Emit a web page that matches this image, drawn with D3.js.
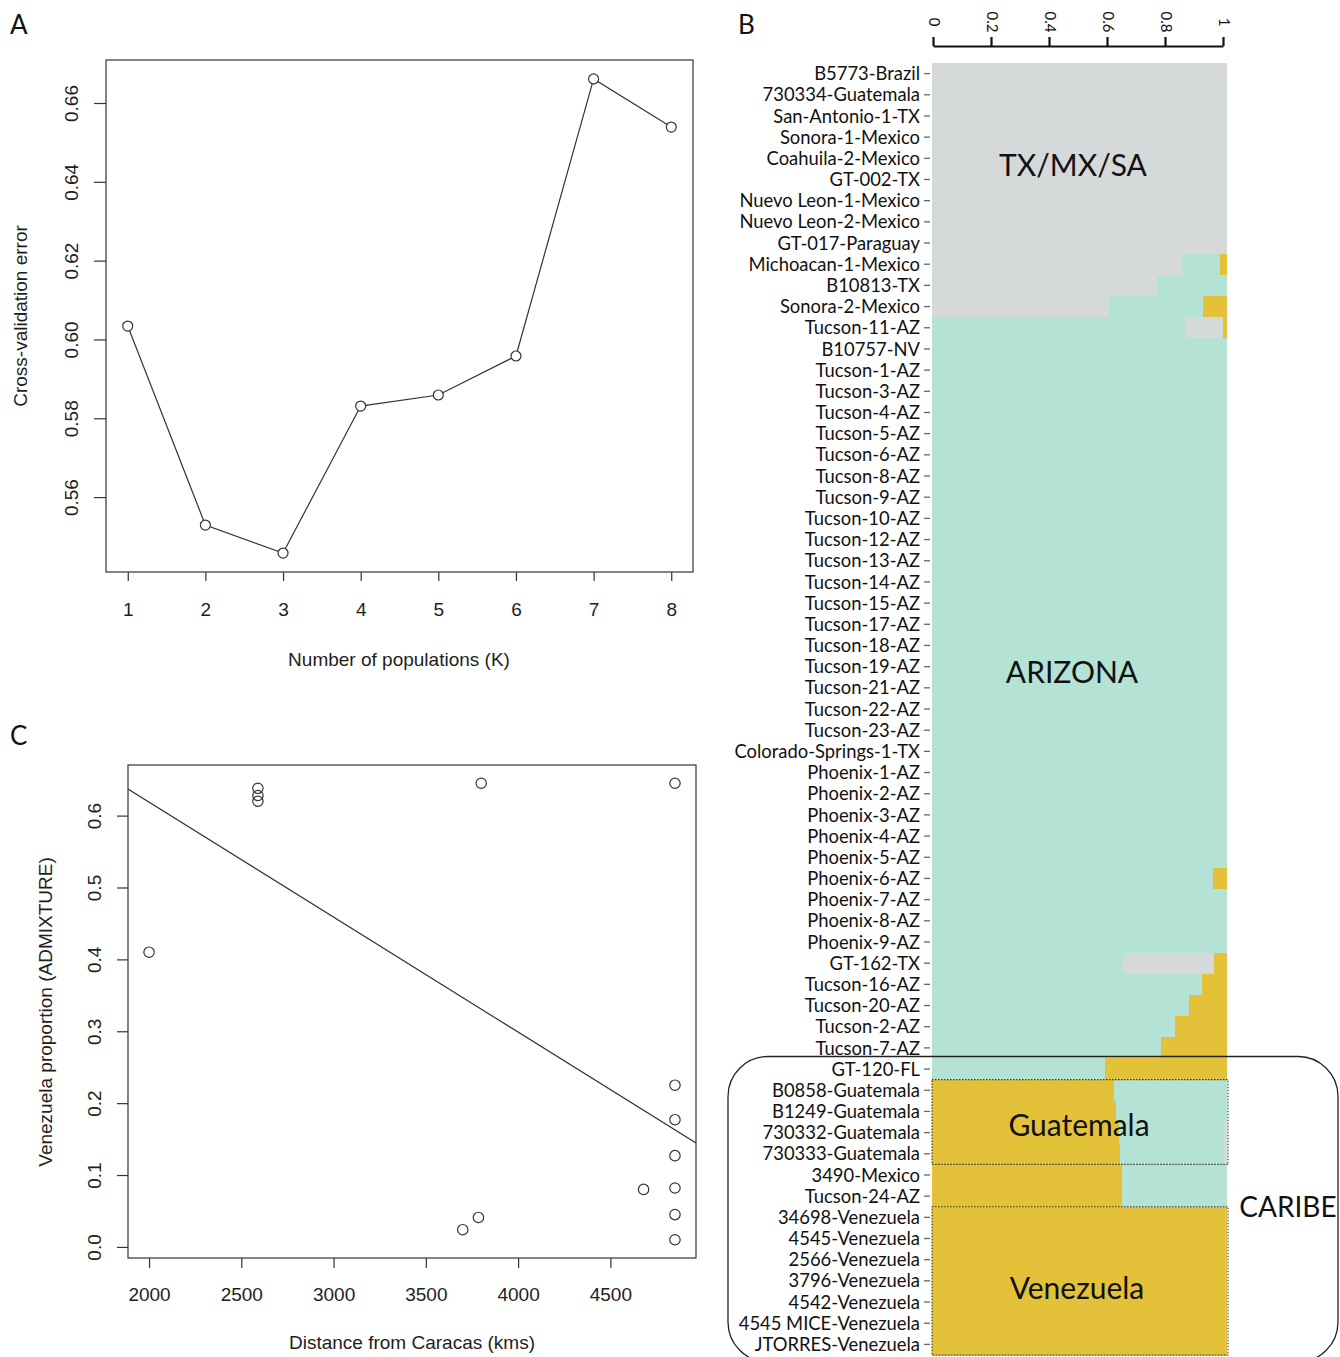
<!DOCTYPE html>
<html>
<head>
<meta charset="utf-8">
<style>
    body {
        margin: 0;
        background: #fff;
    }

    svg {
        display: block;
    }

    .rplot text {
        font-family: 'Liberation Sans', Arial, sans-serif;
        fill: #1e1e1e;
    }

    .ppt text {
        font-family: Lato, 'Open Sans', sans-serif;
        fill: #111;
    }
</style>
</head>
<body>
<svg width="1340" height="1357"></svg>

<script src="https://d3js.org/d3.v7.min.js"></script>
<script>
    // ---- panel A: cross-validation error by K
    let kValues = [1, 2, 3, 4, 5, 6, 7, 8]
    let cvError = [0.6034, 0.5529, 0.5458, 0.5831, 0.5859, 0.5958, 0.6661, 0.6539]
    let cvTicks = [0.56, 0.58, 0.60, 0.62, 0.64, 0.66]

    // ---- panel B: admixture proportions per sample (grey = TX/MX/SA, teal = Arizona, yellow = Venezuela)
    let sampleNames = [
        "B5773-Brazil", "730334-Guatemala", "San-Antonio-1-TX", "Sonora-1-Mexico", "Coahuila-2-Mexico",
        "GT-002-TX", "Nuevo Leon-1-Mexico", "Nuevo Leon-2-Mexico", "GT-017-Paraguay", "Michoacan-1-Mexico",
        "B10813-TX", "Sonora-2-Mexico", "Tucson-11-AZ", "B10757-NV", "Tucson-1-AZ",
        "Tucson-3-AZ", "Tucson-4-AZ", "Tucson-5-AZ", "Tucson-6-AZ", "Tucson-8-AZ",
        "Tucson-9-AZ", "Tucson-10-AZ", "Tucson-12-AZ", "Tucson-13-AZ", "Tucson-14-AZ",
        "Tucson-15-AZ", "Tucson-17-AZ", "Tucson-18-AZ", "Tucson-19-AZ", "Tucson-21-AZ",
        "Tucson-22-AZ", "Tucson-23-AZ", "Colorado-Springs-1-TX", "Phoenix-1-AZ", "Phoenix-2-AZ",
        "Phoenix-3-AZ", "Phoenix-4-AZ", "Phoenix-5-AZ", "Phoenix-6-AZ", "Phoenix-7-AZ",
        "Phoenix-8-AZ", "Phoenix-9-AZ", "GT-162-TX", "Tucson-16-AZ", "Tucson-20-AZ",
        "Tucson-2-AZ", "Tucson-7-AZ", "GT-120-FL", "B0858-Guatemala", "B1249-Guatemala",
        "730332-Guatemala", "730333-Guatemala", "3490-Mexico", "Tucson-24-AZ", "34698-Venezuela",
        "4545-Venezuela", "2566-Venezuela", "3796-Venezuela", "4542-Venezuela", "4545 MICE-Venezuela",
        "JTORRES-Venezuela"
    ]
    let greyProp = [
        1, 1, 1, 1, 1, 1, 1, 1, 1, 0.847,
        0.763, 0.600, 0.125, 0, 0, 0, 0, 0, 0, 0,
        0, 0, 0, 0, 0, 0, 0, 0, 0, 0,
        0, 0, 0, 0, 0, 0, 0, 0, 0, 0,
        0, 0, 0.308, 0, 0, 0, 0, 0, 0, 0,
        0.01, 0.01, 0, 0, 0, 0, 0, 0, 0, 0,
        0
    ]
    let tealProp = [
        0, 0, 0, 0, 0, 0, 0, 0, 0, 0.129,
        0.237, 0.319, 0.861, 1, 1, 1, 1, 1, 1, 1,
        1, 1, 1, 1, 1, 1, 1, 1, 1, 1,
        1, 1, 1, 1, 1, 1, 1, 1, 0.953, 1,
        1, 1, 0.647, 0.915, 0.871, 0.824, 0.776, 0.586, 0.383, 0.376,
        0.356, 0.353, 0.355, 0.355, 0, 0, 0, 0, 0, 0,
        0
    ]
    let yellowProp = [
        0, 0, 0, 0, 0, 0, 0, 0, 0, 0.024,
        0, 0.081, 0.014, 0, 0, 0, 0, 0, 0, 0,
        0, 0, 0, 0, 0, 0, 0, 0, 0, 0,
        0, 0, 0, 0, 0, 0, 0, 0, 0.047, 0,
        0, 0, 0.045, 0.085, 0.129, 0.176, 0.224, 0.414, 0.617, 0.624,
        0.634, 0.637, 0.645, 0.645, 1, 1, 1, 1, 1, 1,
        1
    ]
    let propTicks = [0, 0.2, 0.4, 0.6, 0.8, 1]

    // ---- panel C: distance vs Venezuela proportion
    let distKm = [2000, 2590, 2590, 2590, 3800, 3700, 3785, 4680, 4850, 4850, 4850, 4850, 4850, 4850, 4850]
    let venProp = [0.41, 0.638, 0.628, 0.62, 0.645, 0.024, 0.041, 0.08, 0.645, 0.225, 0.177, 0.127, 0.082, 0.045, 0.01]
    let distTicks = [2000, 2500, 3000, 3500, 4000, 4500]
    let venTicks = [0, 0.1, 0.2, 0.3, 0.4, 0.5, 0.6]
    let fitCoef = [0.9388, -0.00016]   // intercept, slope of the drawn regression line

    let svg = d3.select("svg")

    // R style axis range: data extent padded by 4%
    function rDomain(values) {
        let ext = d3.extent(values)
        let pad = (ext[1] - ext[0]) * 0.04
        return [ext[0] - pad, ext[1] + pad]
    }

    // ================= panel A =================
    let gA = svg.append("g").attr("class", "rplot")

    let xA = d3.scaleLinear().domain(rDomain(kValues)).range([106, 693])
    let yA = d3.scaleLinear().domain(rDomain(cvError)).range([572, 60])

    gA.append("rect")
        .attr("x", 106).attr("y", 60)
        .attr("width", 587).attr("height", 512)
        .style("fill", "none").style("stroke", "#333").style("stroke-width", 1.2)

    let lineA = d3.line()
        .x((d, i) => xA(kValues[i]))
        .y(d => yA(d))

    gA.append("path")
        .attr("d", lineA(cvError))
        .style("fill", "none").style("stroke", "#333").style("stroke-width", 1.2)

    gA.selectAll(".ptA")
        .data(cvError)
        .join("circle")
        .attr("cx", (d, i) => xA(kValues[i]))
        .attr("cy", d => yA(d))
        .attr("r", 5)
        .style("fill", "#fff").style("stroke", "#333").style("stroke-width", 1.2)

    let axA = gA.append("g").attr("transform", "translate(0,572)")
        .call(d3.axisBottom(xA).tickValues(kValues).tickSize(9).tickSizeOuter(0).tickFormat(d3.format("d")))
    axA.select(".domain").remove()
    axA.selectAll("line").style("stroke", "#333").style("stroke-width", 1.2)
    axA.selectAll("text").attr("y", 0).attr("dy", 0).attr("transform", "translate(0,44)")
        .style("font-size", "19px").style("font-family", "'Liberation Sans', Arial, sans-serif").style("fill", "#1e1e1e")

    let ayA = gA.append("g").attr("transform", "translate(106,0)")
        .call(d3.axisLeft(yA).tickValues(cvTicks).tickSize(12).tickSizeOuter(0).tickFormat(d3.format(".2f")))
    ayA.select(".domain").remove()
    ayA.selectAll("line").style("stroke", "#333").style("stroke-width", 1.2)
    ayA.selectAll("text")
        .attr("x", 0).attr("dy", 0)
        .attr("transform", "translate(-28,0) rotate(-90)")
        .attr("text-anchor", "middle")
        .style("font-size", "19px").style("font-family", "'Liberation Sans', Arial, sans-serif").style("fill", "#1e1e1e")

    gA.append("text")
        .attr("x", 399).attr("y", 666)
        .attr("text-anchor", "middle")
        .style("font-size", "19px")
        .text("Number of populations (K)")

    gA.append("text")
        .attr("transform", "translate(27,316) rotate(-90)")
        .attr("text-anchor", "middle")
        .style("font-size", "19px")
        .text("Cross-validation error")

    // ================= panel C =================
    let gC = svg.append("g").attr("class", "rplot")

    let xC = d3.scaleLinear().domain(rDomain(distKm)).range([128, 696])
    let yC = d3.scaleLinear().domain(rDomain(venProp)).range([1258, 765])

    gC.append("clipPath").attr("id", "clipC")
        .append("rect").attr("x", 128).attr("y", 765).attr("width", 568).attr("height", 493)

    gC.append("rect")
        .attr("x", 128).attr("y", 765)
        .attr("width", 568).attr("height", 493)
        .style("fill", "none").style("stroke", "#333").style("stroke-width", 1.2)

    let fitX = xC.domain()
    gC.append("line")
        .attr("clip-path", "url(#clipC)")
        .attr("x1", xC(fitX[0])).attr("y1", yC(fitCoef[0] + fitCoef[1] * fitX[0]))
        .attr("x2", xC(fitX[1])).attr("y2", yC(fitCoef[0] + fitCoef[1] * fitX[1]))
        .style("stroke", "#333").style("stroke-width", 1.2)

    gC.selectAll(".ptC")
        .data(venProp)
        .join("circle")
        .attr("cx", (d, i) => xC(distKm[i]))
        .attr("cy", d => yC(d))
        .attr("r", 5.2)
        .style("fill", "none").style("stroke", "#333").style("stroke-width", 1.2)

    let axC = gC.append("g").attr("transform", "translate(0,1258)")
        .call(d3.axisBottom(xC).tickValues(distTicks).tickSize(10).tickSizeOuter(0).tickFormat(d3.format("d")))
    axC.select(".domain").remove()
    axC.selectAll("line").style("stroke", "#333").style("stroke-width", 1.2)
    axC.selectAll("text").attr("y", 0).attr("dy", 0).attr("transform", "translate(0,43)")
        .style("font-size", "19px").style("font-family", "'Liberation Sans', Arial, sans-serif").style("fill", "#1e1e1e")

    let ayC = gC.append("g").attr("transform", "translate(128,0)")
        .call(d3.axisLeft(yC).tickValues(venTicks).tickSize(11).tickSizeOuter(0).tickFormat(d3.format(".1f")))
    ayC.select(".domain").remove()
    ayC.selectAll("line").style("stroke", "#333").style("stroke-width", 1.2)
    ayC.selectAll("text")
        .attr("x", 0).attr("dy", 0)
        .attr("transform", "translate(-27,0) rotate(-90)")
        .attr("text-anchor", "middle")
        .style("font-size", "19px").style("font-family", "'Liberation Sans', Arial, sans-serif").style("fill", "#1e1e1e")

    gC.append("text")
        .attr("x", 412).attr("y", 1349)
        .attr("text-anchor", "middle")
        .style("font-size", "19px")
        .text("Distance from Caracas (kms)")

    gC.append("text")
        .attr("transform", "translate(52,1012) rotate(-90)")
        .attr("text-anchor", "middle")
        .style("font-size", "19px")
        .text("Venezuela proportion (ADMIXTURE)")

    // ================= panel B =================
    let gB = svg.append("g").attr("class", "ppt")

    let colors = { grey: "#d6d9da", teal: "#b4e2d5", yellow: "#e3c23a" }

    let xB = d3.scaleLinear().domain([0, 1]).range([932, 1227])
    let xAxisB = d3.scaleLinear().domain([0, 1]).range([933, 1223])
    let yB = d3.scaleBand().domain(sampleNames).range([63, 1355])
    let bw = yB.bandwidth()

    // each row: components sorted largest first, then stacked left to right
    let rows = sampleNames.map((name, i) => {
        let comps = [
            { k: "grey", v: greyProp[i] },
            { k: "teal", v: tealProp[i] },
            { k: "yellow", v: yellowProp[i] }
        ].filter(c => c.v > 0)
        comps.sort((a, b) => b.v - a.v)
        let ends = d3.cumsum(comps, c => c.v)
        return comps.map((c, j) => ({ name: name, k: c.k, x0: ends[j] - c.v, x1: ends[j] }))
    })

    gB.append("g")
        .selectAll("rect")
        .data(rows.flat())
        .join("rect")
        .attr("x", d => xB(d.x0))
        .attr("y", d => yB(d.name))
        .attr("width", d => xB(d.x1) - xB(d.x0))
        .attr("height", bw + 0.6)
        .style("fill", d => colors[d.k])
        .style("shape-rendering", "crispEdges")

    // sample labels + small ticks
    gB.selectAll(".tk")
        .data(sampleNames)
        .join("line")
        .attr("x1", 924).attr("x2", 930)
        .attr("y1", d => yB(d) + bw / 2)
        .attr("y2", d => yB(d) + bw / 2)
        .style("stroke", "#666").style("stroke-width", 1.3)

    gB.selectAll(".lbl")
        .data(sampleNames)
        .join("text")
        .attr("x", 920)
        .attr("y", d => yB(d) + bw / 2)
        .attr("dy", "0.36em")
        .attr("text-anchor", "end")
        .style("font-size", "18.4px")
        .text(d => d)

    // proportion axis on top
    let axB = gB.append("g").attr("transform", "translate(0,46)")
        .call(d3.axisTop(xAxisB).tickValues(propTicks).tickSize(9).tickSizeOuter(0).tickFormat(d3.format("~g")))
    axB.select(".domain").style("stroke", "#111").style("stroke-width", 2.2)
    axB.selectAll("line").style("stroke", "#111").style("stroke-width", 2.2)
    axB.selectAll("text")
        .attr("y", 0).attr("dy", 0)
        .attr("transform", "translate(1,-24) rotate(90)")
        .attr("text-anchor", "middle")
        .attr("dominant-baseline", "central")
        .style("font-size", "15px").style("font-family", "Lato, 'Open Sans', sans-serif").style("fill", "#111")

    // dotted group boxes
    let groupBoxes = [
        ["B0858-Guatemala", "730333-Guatemala"],
        ["34698-Venezuela", "JTORRES-Venezuela"]
    ]
    gB.selectAll(".gbox")
        .data(groupBoxes)
        .join("rect")
        .attr("x", xB(0))
        .attr("y", d => yB(d[0]))
        .attr("width", xB(1) - xB(0) + 1)
        .attr("height", d => yB(d[1]) + bw - yB(d[0]))
        .style("fill", "none").style("stroke", "#333").style("stroke-width", 1.1)
        .style("stroke-dasharray", "1.5 1.5")

    // CARIBE rounded frame
    let caribeTop = yB("GT-120-FL") - 2
    gB.append("rect")
        .attr("x", 728).attr("y", caribeTop)
        .attr("width", 610).attr("height", 1362 - caribeTop)
        .attr("rx", 40).attr("ry", 40)
        .style("fill", "none").style("stroke", "#222").style("stroke-width", 1.3)

    // cluster labels: anchored to a row, offset in row heights
    let clusterLabels = [
        { text: "TX/MX/SA", x: 1073, row: "Coahuila-2-Mexico", off: 0.82 },
        { text: "ARIZONA", x: 1072, row: "Tucson-19-AZ", off: 0.76 },
        { text: "Guatemala", x: 1079, row: "730332-Guatemala", off: 0.14 },
        { text: "Venezuela", x: 1077, row: "3796-Venezuela", off: 0.84 }
    ]
    gB.selectAll(".clab")
        .data(clusterLabels)
        .join("text")
        .attr("x", d => d.x)
        .attr("y", d => yB(d.row) + d.off * bw)
        .attr("dy", "0.36em")
        .attr("text-anchor", "middle")
        .style("font-size", "30px")
        .text(d => d.text)

    gB.append("text")
        .attr("x", 1288).attr("y", yB("34698-Venezuela"))
        .attr("dy", "0.36em")
        .attr("text-anchor", "middle")
        .style("font-size", "28px")
        .text("CARIBE")

    // panel letters
    let panelLetters = [
        { t: "A", x: 10, y: 34 },
        { t: "B", x: 738, y: 34 },
        { t: "C", x: 10, y: 745 }
    ]
    svg.append("g").attr("class", "ppt")
        .selectAll("text")
        .data(panelLetters)
        .join("text")
        .attr("x", d => d.x).attr("y", d => d.y)
        .style("font-size", "26px")
        .text(d => d.t)
</script>
</body>
</html>
